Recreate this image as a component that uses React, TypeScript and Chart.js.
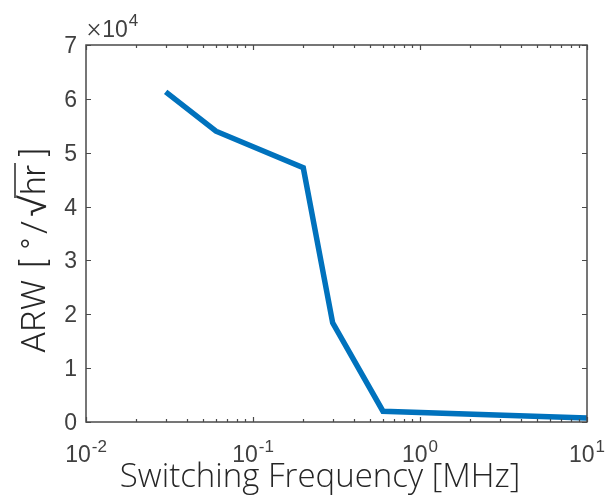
import React, { useEffect, useRef } from "react";
import { Chart, registerables } from "chart.js";
Chart.register(...registerables);

const frequencyMHz = [0.03, 0.06, 0.2, 0.3, 0.6, 10];
const arwValues = [61300, 54000, 47200, 18400, 2000, 740];
const yTickValues = [0, 10000, 20000, 30000, 40000, 50000, 60000, 70000];
const yTickLabels = ["0", "1", "2", "3", "4", "5", "6", "7"];
const yExponent = "4";
const xMajorTicks = [0.01, 0.1, 1, 10];
const xMajorExponents = ["-2", "-1", "0", "1"];
const xAxisTitle = "Switching Frequency [MHz]";
const yAxisTitleName = "ARW";
const yAxisTitleOpen = "[";
const yAxisTitleDegree = "\u00B0";
const yAxisTitleSlash = "/";
const yAxisTitleRadical = "\u221A";
const yAxisTitleRadicand = "hr";
const yAxisTitleClose = "]";

const AXIS_COLOR = "#4a4a4a";
const TEXT_COLOR = "#404040";
const TICK_FONT = "'Liberation Sans', Arial, sans-serif";
const XTITLE_FONT = "'Open Sans', Lato, sans-serif";
const YTITLE_FONT = "Roboto, 'Open Sans', sans-serif";

const axesPlugin = {
  id: "matlabAxes",
  afterDraw(chart: any) {
    const { ctx, chartArea, scales } = chart;
    const { left, right, top, bottom } = chartArea;
    const xs = scales.x;
    const ys = scales.y;
    ctx.save();
    ctx.strokeStyle = AXIS_COLOR;
    ctx.lineWidth = 1.5;
    ctx.strokeRect(left, top, right - left, bottom - top);

    ctx.lineWidth = 1.2;
    ctx.beginPath();
    yTickValues.forEach((v) => {
      const y = Math.round(ys.getPixelForValue(v)) + 0.5;
      ctx.moveTo(left, y);
      ctx.lineTo(left + 5, y);
      ctx.moveTo(right, y);
      ctx.lineTo(right - 5, y);
    });
    xMajorTicks.forEach((m, i) => {
      const x = Math.round(xs.getPixelForValue(m)) + 0.5;
      ctx.moveTo(x, bottom);
      ctx.lineTo(x, bottom - 5);
      ctx.moveTo(x, top);
      ctx.lineTo(x, top + 5);
      if (i < xMajorTicks.length - 1) {
        for (let k = 2; k <= 9; k++) {
          const xm = Math.round(xs.getPixelForValue(m * k)) + 0.5;
          ctx.moveTo(xm, bottom);
          ctx.lineTo(xm, bottom - 3);
          ctx.moveTo(xm, top);
          ctx.lineTo(xm, top + 3);
        }
      }
    });
    ctx.stroke();

    // y tick labels
    ctx.fillStyle = TEXT_COLOR;
    ctx.font = `23px ${TICK_FONT}`;
    ctx.textAlign = "right";
    ctx.textBaseline = "alphabetic";
    yTickValues.forEach((v, i) => {
      ctx.fillText(yTickLabels[i], left - 9, ys.getPixelForValue(v) + 8);
    });

    // exponent label x10^4
    ctx.textAlign = "left";
    ctx.font = `300 27px ${YTITLE_FONT}`;
    ctx.fillText("\u00D7", left + 1, top - 8);
    const tw = ctx.measureText("\u00D7").width;
    ctx.font = `23px ${TICK_FONT}`;
    ctx.fillText("10", left + 2 + tw, top - 8);
    const bw = ctx.measureText("10").width;
    ctx.font = `17px ${TICK_FONT}`;
    ctx.fillText(yExponent, left + 3 + tw + bw, top - 19);

    // x tick labels 10^n
    xMajorTicks.forEach((m, i) => {
      const x = xs.getPixelForValue(m);
      ctx.font = `23px ${TICK_FONT}`;
      const w1 = ctx.measureText("10").width;
      ctx.font = `17px ${TICK_FONT}`;
      const w2 = ctx.measureText(xMajorExponents[i]).width;
      const total = w1 + w2 + 1;
      const sx = x - total / 2;
      ctx.font = `23px ${TICK_FONT}`;
      ctx.fillText("10", sx, bottom + 40);
      ctx.font = `17px ${TICK_FONT}`;
      ctx.fillText(xMajorExponents[i], sx + w1 + 1, bottom + 30);
    });

    // x axis title
    ctx.font = `300 33px ${XTITLE_FONT}`;
    ctx.textAlign = "center";
    ctx.fillStyle = "#262626";
    ctx.fillText(xAxisTitle, 320, 487);

    // y axis title (rotated), laid out along the text direction
    ctx.translate(45, 353);
    ctx.rotate(-Math.PI / 2);
    ctx.textAlign = "left";
    const F = `300 34px ${YTITLE_FONT}`;
    ctx.font = F;
    ctx.fillText(yAxisTitleName, 0, 0);
    ctx.fillText(yAxisTitleOpen, 85, 0);
    ctx.fillText(yAxisTitleDegree, 103, 0);
    ctx.fillText(yAxisTitleSlash, 119, 0);
    ctx.font = `300 42px ${YTITLE_FONT}`;
    ctx.fillText(yAxisTitleRadical, 136, 1);
    const rw = ctx.measureText(yAxisTitleRadical).width;
    ctx.font = F;
    const hx = 136 + rw - 1;
    ctx.fillText(yAxisTitleRadicand, hx, 0);
    const hw = ctx.measureText(yAxisTitleRadicand).width;
    ctx.lineWidth = 1.5;
    ctx.strokeStyle = "#262626";
    ctx.beginPath();
    ctx.moveTo(hx - 3, -30);
    ctx.lineTo(hx + hw + 2, -30);
    ctx.stroke();
    ctx.fillText(yAxisTitleClose, hx + hw + 9, 0);
    ctx.restore();
  },
};

export default function App() {
  const ref = useRef<HTMLCanvasElement | null>(null);
  useEffect(() => {
    if (!ref.current) return;
    const chart = new Chart(ref.current, {
      type: "line",
      data: {
        datasets: [
          {
            data: frequencyMHz.map((f, i) => ({ x: f, y: arwValues[i] })),
            borderColor: "#0072BD",
            borderWidth: 5.5,
            pointRadius: 0,
            tension: 0,
            fill: false,
          },
        ],
      },
      options: {
        responsive: false,
        animation: false,
        layout: { padding: { left: 86, right: 19, top: 45, bottom: 73 } },
        plugins: { legend: { display: false }, tooltip: { enabled: false } },
        scales: {
          x: { type: "logarithmic", min: 0.01, max: 10, display: false },
          y: { type: "linear", min: 0, max: 70000, display: false },
        },
      },
      plugins: [axesPlugin],
    });
    return () => chart.destroy();
  }, []);
  return (
    <div style={{ position: "fixed", left: 0, top: 0, width: 606, height: 495, background: "#fff" }}>
      <canvas ref={ref} width={606} height={495} style={{ display: "block" }} />
    </div>
  );
}
